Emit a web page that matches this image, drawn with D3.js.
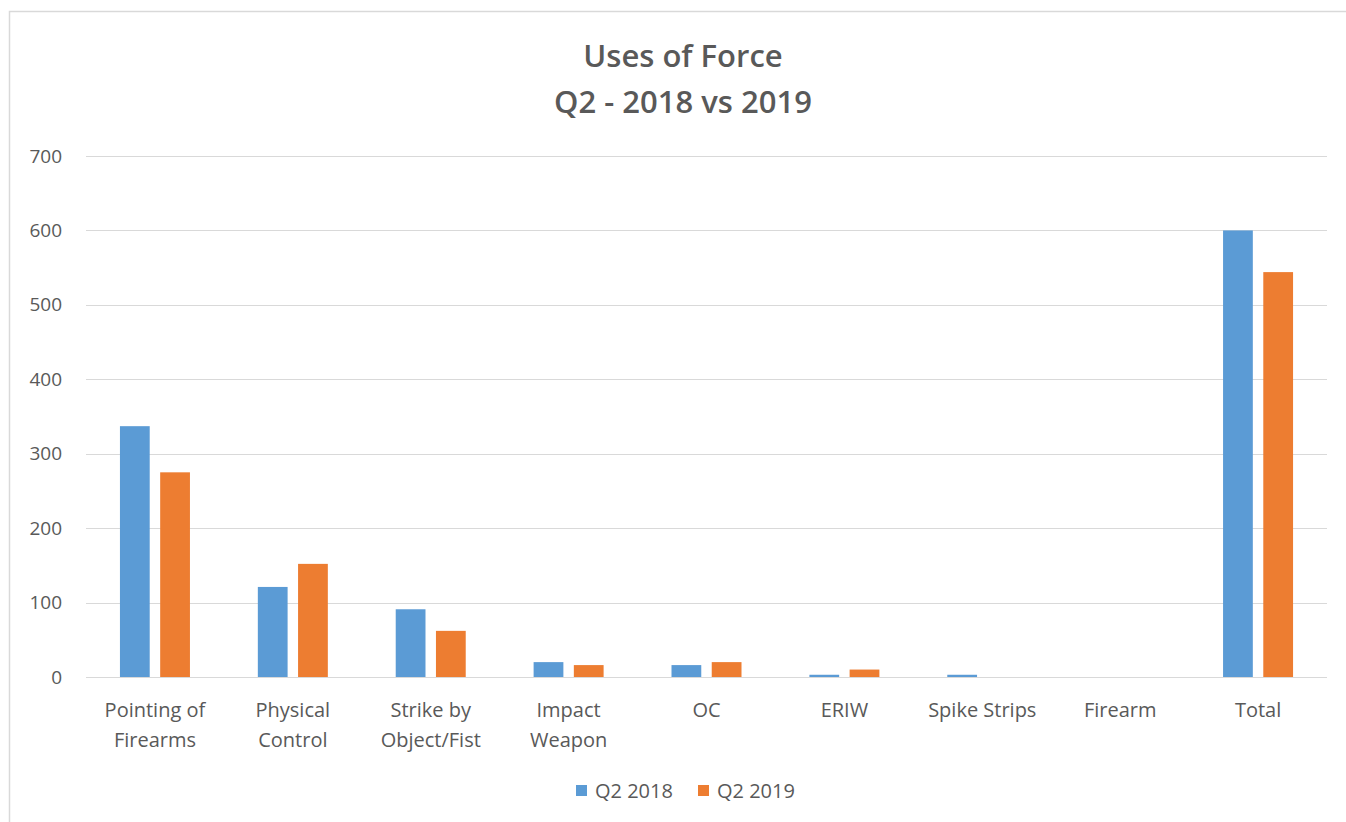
<!DOCTYPE html>
<html>
<head>
<meta charset="utf-8">
<script src="https://cdn.jsdelivr.net/npm/d3@7.9.0/dist/d3.min.js"></script>
<style>
  body { margin: 0; background: #fff; }
  svg { display: block; }
  text { font-family: "Open Sans", "Noto Sans", sans-serif; }
</style>
</head>
<body>
<svg id="chart"></svg>
<script>
const categories = [
  ["Pointing of", "Firearms"],
  ["Physical", "Control"],
  ["Strike by", "Object/Fist"],
  ["Impact", "Weapon"],
  ["OC"],
  ["ERIW"],
  ["Spike Strips"],
  ["Firearm"],
  ["Total"]
];
const seriesNames = ["Q2 2018", "Q2 2019"];
const values2018 = [337, 121, 91, 20, 16, 3, 3, 0, 600];
const values2019 = [275, 152, 62, 16, 20, 10, 0, 0, 544];
const yTicks = [0, 100, 200, 300, 400, 500, 600, 700];
const colors = ["#5b9bd5", "#ed7d31"];

const svgWidth = 1346;
const svgHeight = 822;
const margin = { top: 156, right: 19, bottom: 145, left: 86 };
const width = svgWidth - margin.left - margin.right;
const height = svgHeight - margin.top - margin.bottom;

const svg = d3.select("#chart")
    .attr("width", svgWidth)
    .attr("height", svgHeight);

// outer chart border
svg.append("rect")
    .attr("x", 9.5)
    .attr("y", 11.5)
    .attr("width", svgWidth)
    .attr("height", svgHeight)
    .attr("fill", "none")
    .attr("stroke", "#d9d9d9")
    .attr("stroke-width", 1.5);

const chartGroup = svg.append("g")
    .attr("transform", `translate(${margin.left}, ${margin.top})`);

const keys = categories.map((c, i) => i);
const xScale = d3.scaleBand()
    .domain(keys)
    .range([0, width]);

const xInner = d3.scaleBand()
    .domain([0, 1])
    .range([xScale.bandwidth() / 2 - 35, xScale.bandwidth() / 2 + 35])
    .paddingInner(0.26);

const yScale = d3.scaleLinear()
    .domain([0, 700])
    .range([height, 0]);

// gridlines
chartGroup.append("g")
    .selectAll("line")
    .data(yTicks)
    .enter()
    .append("line")
    .attr("x1", 0)
    .attr("x2", width)
    .attr("y1", d => Math.round(yScale(d)) + 0.5)
    .attr("y2", d => Math.round(yScale(d)) + 0.5)
    .attr("stroke", "#d9d9d9")
    .attr("stroke-width", 1);

// y axis labels
const yAxis = chartGroup.append("g")
    .call(d3.axisLeft(yScale).tickValues(yTicks).tickSize(0).tickPadding(24));
yAxis.select(".domain").remove();
yAxis.selectAll("text")
    .style("font-family", "'Open Sans'")
    .style("font-size", "19px")
    .attr("fill", "#595959");

// bars
const series = [values2018, values2019];
series.forEach((vals, s) => {
    chartGroup.append("g")
        .selectAll("rect")
        .data(vals)
        .enter()
        .append("rect")
        .attr("x", (d, i) => xScale(i) + xInner(s))
        .attr("y", d => yScale(d))
        .attr("width", xInner.bandwidth())
        .attr("height", d => height - yScale(d))
        .attr("fill", colors[s]);
});

// x axis labels
const xLabels = chartGroup.append("g")
    .selectAll("text")
    .data(categories)
    .enter()
    .append("text")
    .attr("x", (d, i) => xScale(i) + xScale.bandwidth() / 2)
    .attr("y", height + 40)
    .attr("text-anchor", "middle")
    .style("font-size", "20px")
    .attr("fill", "#595959");

xLabels.selectAll("tspan")
    .data(d => d)
    .enter()
    .append("tspan")
    .attr("x", function () { return d3.select(this.parentNode).attr("x"); })
    .attr("dy", (d, i) => i === 0 ? 0 : 30)
    .text(d => d);

// title
const title = svg.append("text")
    .attr("x", 683)
    .attr("text-anchor", "middle")
    .style("font-size", "31px")
    .style("font-weight", "600")
    .attr("fill", "#595959");
title.append("tspan").attr("x", 683).attr("y", 67).text("Uses of Force");
title.append("tspan").attr("x", 683).attr("y", 113).text("Q2 - 2018 vs 2019");

// legend
const legend = svg.append("g")
    .attr("transform", "translate(576, 798)");

const legendItems = legend.selectAll("g")
    .data(seriesNames)
    .enter()
    .append("g")
    .attr("transform", (d, i) => `translate(${i * 122}, 0)`);

legendItems.append("rect")
    .attr("x", 0)
    .attr("y", -13)
    .attr("width", 11)
    .attr("height", 11)
    .attr("fill", (d, i) => colors[i]);

legendItems.append("text")
    .attr("x", 19)
    .attr("y", 0)
    .style("font-size", "20px")
    .attr("fill", "#595959")
    .text(d => d);
</script>
</body>
</html>
